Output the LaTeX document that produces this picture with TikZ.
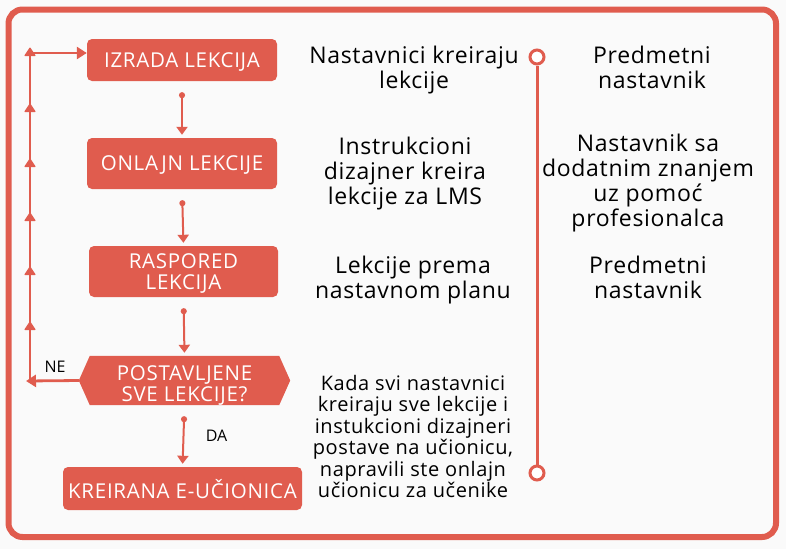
\documentclass[tikz,border=0pt]{standalone}
\usepackage{fontspec}
\setmainfont{Open Sans}
\newfontfamily\notefont[LetterSpace=3]{Open Sans}
\newfontfamily\boxfont[LetterSpace=3.5]{Open Sans}
\usetikzlibrary{arrows.meta,calc}
\definecolor{flowred}{RGB}{224,92,78}
\definecolor{paper}{RGB}{250,250,250}

\tikzset{
  stepbox/.style={fill=flowred, text=white, rounded corners=5pt, inner sep=0pt, text depth=-2pt,
    align=center, font=\boxfont\fontsize{20.5}{21.5}\selectfont},
  note/.style={align=center, inner sep=0pt, font=\notefont\fontsize{23}{25}\selectfont},
  flow/.style={draw=flowred, line width=2pt, {Circle[length=6pt]}-{Triangle[length=8pt,width=11pt]},
    shorten <=11pt, shorten >=3pt},
  backloop/.style={draw=flowred, line width=2.8pt, -{Triangle[length=10pt,width=12pt]}},
  looptip/.style={fill=flowred, rounded corners=0.8pt},
  tldot/.style={circle, draw=flowred, line width=3pt, fill=white, minimum size=14pt, inner sep=0pt},
  side/.style={text=black, font=\fontsize{16}{18}\selectfont}
}

\begin{document}
\begin{tikzpicture}[x=1pt, y=-1pt]
  % page and frame
  \fill[paper] (0,0) rectangle (786,549);
  \useasboundingbox (0,0) rectangle (786,549);
  \draw[flowred, line width=6pt, rounded corners=14pt] (8.5,9.5) rectangle (776,537);

  % Steps
  \node[stepbox, minimum width=190pt, minimum height=42pt] (izrada) at (182,60) {IZRADA LEKCIJA};
  \node[stepbox, minimum width=190pt, minimum height=51pt] (onlajn) at (182,163.5) {ONLAJN LEKCIJE};
  \node[stepbox, minimum width=189pt, minimum height=51pt] (raspored) at (183.5,271.5) {RASPORED\\LEKCIJA};
  \node[inner sep=0pt, minimum width=211pt, minimum height=49pt] (postav) at (184.5,380.5) {};
  \node[stepbox, minimum width=239pt, minimum height=43pt] (kreirana) at (182.5,488.5) {KREIRANA E-UČIONICA};

  % decision hexagon
  \fill[flowred] (postav.west) -- ($(postav.north west)+(11,0)$) -- ($(postav.north east)+(-11,0)$)
    -- (postav.east) -- ($(postav.south east)+(-11,0)$) -- ($(postav.south west)+(11,0)$) -- cycle;
  \node[align=center, inner sep=0pt, text=white, text depth=0pt, font=\boxfont\fontsize{20.5}{21.5}\selectfont]
    (postavtxt) at (184.5,383.5) {POSTAVLJENE\\SVE LEKCIJE?};

  % Flow arrows
  \draw[flow] (izrada.south) -- (onlajn.north);
  \draw[flow] (onlajn.south) -- (raspored.north);
  \draw[flow] (raspored.south) -- (postav.north);
  \draw[flow] (postav.south) -- (kreirana.north) node[midway, right=18pt, side] {DA};

  % Loop back (NE)
  \coordinate (loopbot) at (30,381);
  \coordinate (looptop) at (30,53);
  \draw[backloop] (postav.west) -- ($(loopbot)+(-4,0)$) node[pos=0.45, above=3pt, side] {NE};
  \draw[flowred, line width=2.8pt] (loopbot) -- (looptop);
  \foreach \y in {321,266,212,158,103,47}
    \fill[looptip] (30,\y) -- ++(6,9) -- ++(-12,0) -- cycle;
  \draw[backloop] (looptop) -- (izrada.west |- looptop);

  % Descriptions
  \node[note] (n1) at (414,70.5) {Nastavnici kreiraju\\lekcije};
  \node[note] (n2) at (405,174) {Instrukcioni\\dizajner kreira\\lekcije za LMS};
  \node[note] (n3) at (413,280.5) {Lekcije prema\\nastavnom planu};
  \node[note, font=\notefont\fontsize{20}{21.5}\selectfont] (n4) at (413,436.5) {Kada svi nastavnici\\kreiraju sve lekcije i\\instukcioni dizajneri\\postave na učionicu,\\napravili ste onlajn\\učionicu za učenike};

  % Timeline
  \node[tldot] (tltop) at (537,57) {};
  \node[tldot] (tlbot) at (537,473) {};
  \draw[flowred, line width=3pt] (tltop) -- (tlbot);

  % Roles
  \node[note] (r1) at (652,67.5) {Predmetni\\nastavnik};
  \node[note] (r2) at (648,183) {Nastavnik sa\\dodatnim znanjem\\uz pomoć\\profesionalca};
  \node[note] (r3) at (648,277.5) {Predmetni\\nastavnik};
\end{tikzpicture}
\end{document}
